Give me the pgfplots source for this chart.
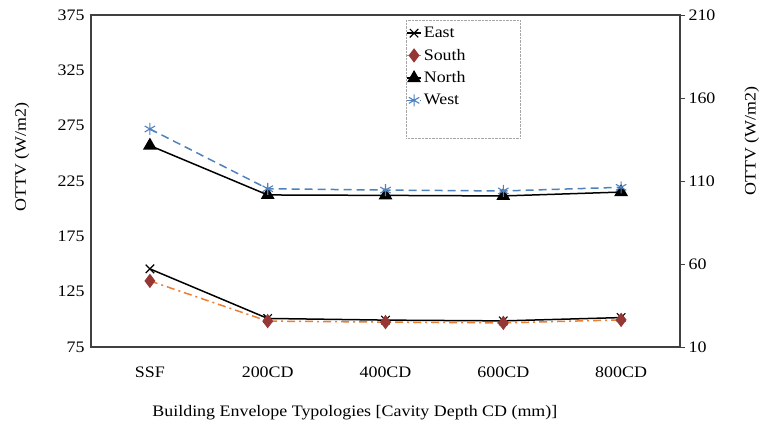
\documentclass[border=0pt]{standalone}
\usepackage{pgfplots}
\pgfplotsset{compat=1.18}
\usepackage{fontspec}
\setmainfont{Liberation Serif}[FakeStretch=1.12]
\definecolor{westblue}{RGB}{79,129,189}
\definecolor{southline}{RGB}{237,125,49}
\definecolor{southmark}{RGB}{149,55,53}
\definecolor{frame}{RGB}{64,64,64}

\pgfplotstableread{
x east south north west
0 145.6 134.7 257.0 272.0
1 100.8 98.4 212.4 218.0
2 99.3 97.5 212.0 216.8
3 98.6 96.8 211.5 216.0
4 101.6 99.5 215.0 219.3
}\ottv

\newcommand{\lbl}{\fontsize{16pt}{19pt}\selectfont}

\begin{document}
\begin{tikzpicture}[x=1pt,y=1pt]
\useasboundingbox (0,0) rectangle (762,432);
\begin{axis}[
    at={(91pt,85pt)}, anchor=south west,
    scale only axis,
    width=589pt, height=332pt,
    xmin=-0.5, xmax=4.5,
    ymin=75, ymax=375,
    xtick=data,
    xticklabels={SSF,200CD,400CD,600CD,800CD},
    ytick={75,125,...,375},
    axis line style={frame, line width=1.4pt},
    major tick length=0pt,
    tick label style={font=\lbl},
    /pgf/number format/assume math mode=true,
    xticklabel style={yshift=-16pt},
    yticklabel style={xshift=-3pt},
    xlabel={Building Envelope Typologies [Cavity Depth CD (mm)]},
    every axis x label/.style={at={(rel axis cs:0.448,0)}, anchor=center, yshift=-66pt, font=\lbl},
    ylabel={OTTV (W/m2)},
    every axis y label/.style={at={(rel axis cs:-0.117,0.572)}, anchor=center, rotate=90, font=\lbl},
    legend cell align=left,
    legend style={at={(rel axis cs:0.535,0.985)}, anchor=north west,
        draw=gray!70, densely dotted, fill=white,
        font=\lbl,
        inner xsep=0pt, inner ysep=5pt,
        row sep=6pt},
    legend image code/.code={%
        \draw[mark repeat=2,mark phase=2,#1] plot coordinates {(0pt,0pt) (7pt,0pt) (14pt,0pt)};},
]
\addplot[black, line width=1.5pt, mark=x, mark size=6pt, mark options={solid, line width=1.1pt}]
    table[x=x, y=east] {\ottv};
\addlegendentry{\makebox[94pt][l]{East}}
\addplot[southline, line width=1.5pt, dash pattern=on 8pt off 4pt on 2pt off 4pt,
    mark=diamond*, mark size=6pt, mark options={solid, fill=southmark, draw=southmark}]
    table[x=x, y=south] {\ottv};
\addlegendentry{South}
\addplot[black, line width=1.5pt, mark=triangle*, mark size=6.5pt, mark options={solid, fill=black}]
    table[x=x, y=north] {\ottv};
\addlegendentry{North}
\addplot[westblue, line width=1.5pt, dash pattern=on 8pt off 5pt,
    mark=asterisk, mark size=6pt, mark options={solid, line width=1.1pt}]
    table[x=x, y=west] {\ottv};
\addlegendentry{West}
\addlegendimage{empty legend}\addlegendentry{\rule{0pt}{13pt}}
\end{axis}
\begin{axis}[
    at={(91pt,85pt)}, anchor=south west,
    scale only axis,
    width=589pt, height=332pt,
    xmin=-0.5, xmax=4.5,
    ymin=10, ymax=210,
    axis x line=none,
    axis y line*=right,
    ytick={10,60,...,210},
    axis line style={frame, line width=1.4pt},
    y axis line style={-},
    major tick length=5pt,
    tick style={frame, line width=1pt},
    tick align=outside,
    tick label style={font=\lbl},
    /pgf/number format/assume math mode=true,
    ylabel={OTTV (W/m2)},
    every axis y label/.style={at={(rel axis cs:1.122,0.62)}, anchor=center, rotate=90, font=\lbl},
]
\end{axis}
\end{tikzpicture}
\end{document}
